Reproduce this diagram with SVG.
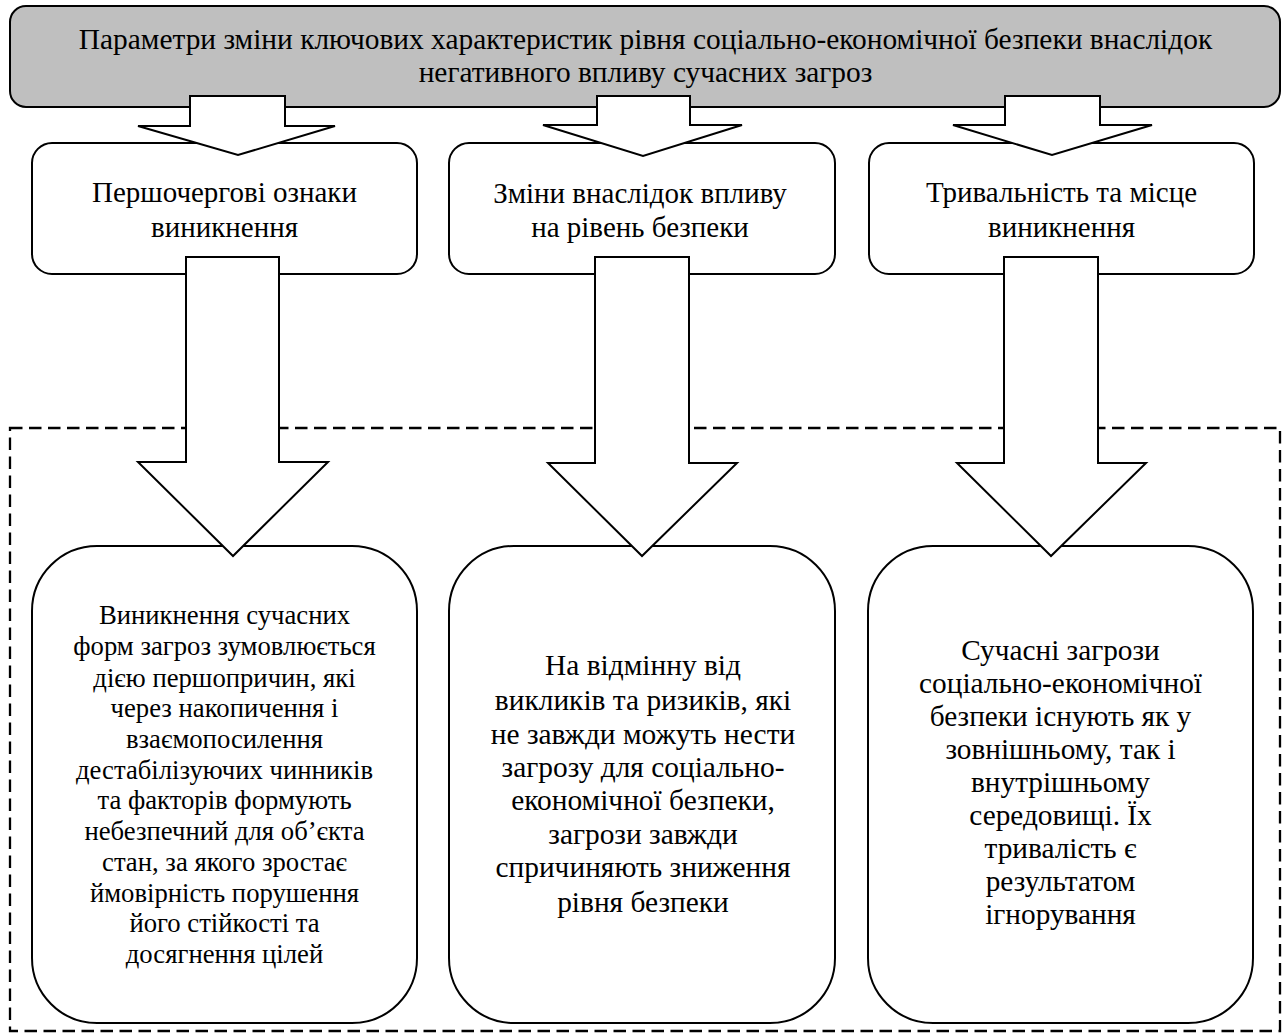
<svg xmlns="http://www.w3.org/2000/svg" width="1285" height="1034" viewBox="0 0 1285 1034">
<style>
text{font-family:'Liberation Serif','Times New Roman',serif;fill:#000;text-anchor:middle}
.h{font-size:29.4px}
.m{font-size:29px}
.b1{font-size:26.7px}
.b2{font-size:29.4px}
.b3{font-size:29.3px}
.box{fill:#fff;stroke:#000;stroke-width:2}
.arr{fill:#fff;stroke:#000;stroke-width:2;stroke-linejoin:miter}
</style>
<rect width="1285" height="1034" fill="#fff"/>
<g id="frame">
<rect x="10" y="428" width="1270" height="603" fill="none" stroke="#000" stroke-width="2.3" stroke-dasharray="12.5,6.5"/>
</g>
<g id="title">
<rect x="10" y="6" width="1270" height="101" rx="16" fill="#bfbfbf" stroke="#000" stroke-width="2"/>
<text class="h" x="645.5" y="48.5">Параметри зміни ключових характеристик рівня соціально-економічної безпеки внаслідок</text>
<text class="h" x="645.5" y="81.5">негативного впливу сучасних загроз</text>
</g>
<g id="n1">
<rect class="box" x="32" y="143" width="385" height="131" rx="20"/>
<text class="m" x="224.5" y="202">Першочергові ознаки</text>
<text class="m" x="224.5" y="237">виникнення</text>
</g>
<g id="n2">
<rect class="box" x="449" y="143" width="386" height="131" rx="20"/>
<text class="m" x="640" y="203">Зміни внаслідок впливу</text>
<text class="m" x="640" y="237">на рівень безпеки</text>
</g>
<g id="n3">
<rect class="box" x="869" y="143" width="385" height="131" rx="20"/>
<text class="m" x="1061.5" y="202">Тривальність та місце</text>
<text class="m" x="1061.5" y="237">виникнення</text>
</g>
<g id="d1">
<rect class="box" x="32" y="546" width="385" height="477" rx="65"/>
<text class="b1" x="224.5" y="624">Виникнення сучасних</text>
<text class="b1" x="224.5" y="655">форм загроз зумовлюється</text>
<text class="b1" x="224.5" y="686.5">дією першопричин, які</text>
<text class="b1" x="224.5" y="717">через накопичення і</text>
<text class="b1" x="224.5" y="747.5">взаємопосилення</text>
<text class="b1" x="224.5" y="778.5">дестабілізуючих чинників</text>
<text class="b1" x="224.5" y="809">та факторів формують</text>
<text class="b1" x="224.5" y="840">небезпечний для об’єкта</text>
<text class="b1" x="224.5" y="870.5">стан, за якого зростає</text>
<text class="b1" x="224.5" y="901.5">ймовірність порушення</text>
<text class="b1" x="224.5" y="932">його стійкості та</text>
<text class="b1" x="224.5" y="963">досягнення цілей</text>
</g>
<g id="d2">
<rect class="box" x="449" y="546" width="386" height="477" rx="65"/>
<text class="b2" x="643" y="675">На відмінну від</text>
<text class="b2" x="643" y="709.5">викликів та ризиків, які</text>
<text class="b2" x="643" y="743.5">не завжди можуть нести</text>
<text class="b2" x="643" y="777">загрозу для соціально-</text>
<text class="b2" x="643" y="810">економічної безпеки,</text>
<text class="b2" x="643" y="843.5">загрози завжди</text>
<text class="b2" x="643" y="877">спричиняють зниження</text>
<text class="b2" x="643" y="911.5">рівня безпеки</text>
</g>
<g id="d3">
<rect class="box" x="868" y="546" width="385" height="477" rx="65"/>
<text class="b3" x="1060.5" y="660">Сучасні загрози</text>
<text class="b3" x="1060.5" y="693">соціально-економічної</text>
<text class="b3" x="1060.5" y="726">безпеки існують як у</text>
<text class="b3" x="1060.5" y="759">зовнішньому, так і</text>
<text class="b3" x="1060.5" y="792">внутрішньому</text>
<text class="b3" x="1060.5" y="825">середовищі. Їх</text>
<text class="b3" x="1060.5" y="858">тривалість є</text>
<text class="b3" x="1060.5" y="891">результатом</text>
<text class="b3" x="1060.5" y="924">ігнорування</text>
</g>
<g id="connectors">
<polygon class="arr" points="190,96 285,96 285,126 335,126 238,155 138,126 190,126"/>
<polygon class="arr" points="597,96 690,96 690,125 742,125 643,156 543,125 597,125"/>
<polygon class="arr" points="1005,96 1100,96 1100,125 1152,125 1052,155 953,125 1005,125"/>
<polygon class="arr" points="186,257 279,257 279,462 328,462 233,556 138,462 186,462"/>
<polygon class="arr" points="595,257 689,257 689,463 737,463 642,556 548,463 595,463"/>
<polygon class="arr" points="1004,257 1098,257 1098,463 1146,463 1051,556 957,463 1004,463"/>
</g>
</svg>
